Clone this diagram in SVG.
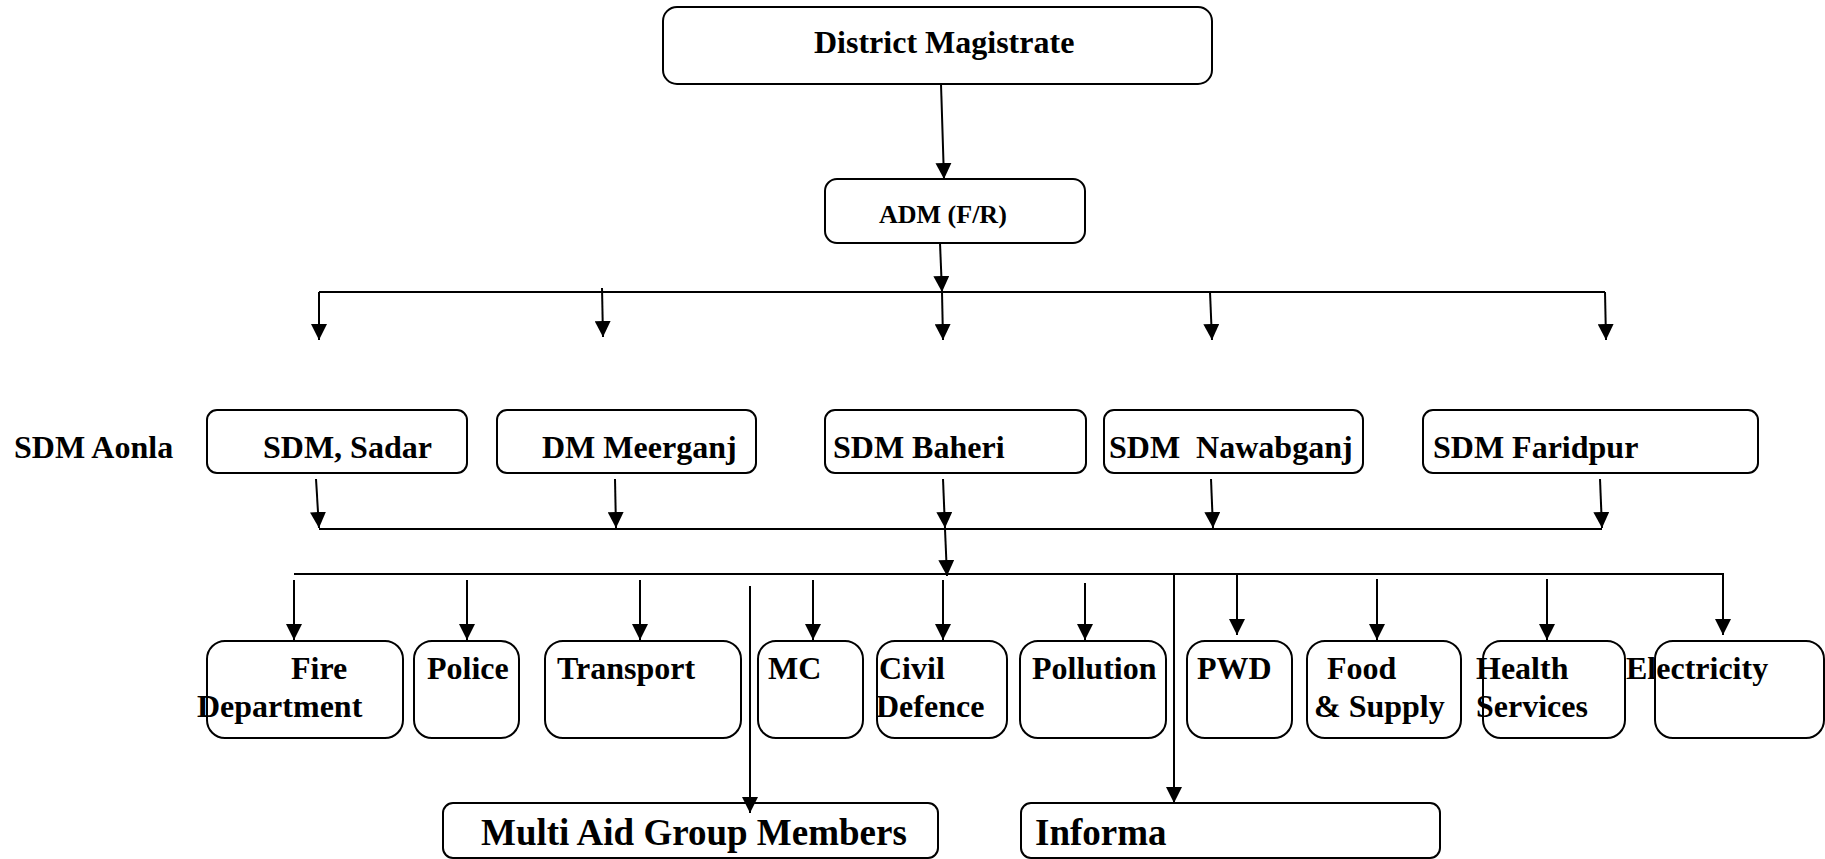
<svg xmlns="http://www.w3.org/2000/svg" width="1825" height="859" viewBox="0 0 1825 859">
<style>
.box{fill:#fff;stroke:#000;stroke-width:2}
.t{font-family:"Liberation Serif","Times New Roman",serif;font-weight:bold;font-size:32px;fill:#000}
.big{font-size:37px}
.small{font-size:26px}
.c{fill:none;stroke:#000;stroke-width:2}
</style>
<defs>
<marker id="ah" markerUnits="userSpaceOnUse" viewBox="0 0 16 16" refX="16" refY="8" markerWidth="16" markerHeight="16" orient="auto">
<path d="M0,0 L16,8 L0,16 z" fill="#000"/>
</marker>
</defs>
<rect width="1825" height="859" fill="#fff"/>
<g id="n-dm"><rect class="box" x="663" y="7" width="549" height="77" rx="14"/><text class="t" x="814" y="53">District Magistrate</text></g>
<g id="n-adm"><rect class="box" x="825" y="179" width="260" height="64" rx="12"/><text class="t small" x="879" y="223">ADM (F/R)</text></g>
<g id="n-aonla"><text class="t" x="14" y="458">SDM Aonla</text></g>
<g id="n-sadar"><rect class="box" x="207" y="410" width="260" height="63" rx="10"/><text class="t" x="263" y="458">SDM, Sadar</text></g>
<g id="n-meerganj"><rect class="box" x="497" y="410" width="259" height="63" rx="10"/><text class="t" x="542" y="458">DM Meerganj</text></g>
<g id="n-baheri"><rect class="box" x="825" y="410" width="261" height="63" rx="10"/><text class="t" x="833" y="458">SDM Baheri</text></g>
<g id="n-nawabganj"><rect class="box" x="1104" y="410" width="259" height="63" rx="10"/><text class="t" x="1109" y="458" xml:space="preserve">SDM  Nawabganj</text></g>
<g id="n-faridpur"><rect class="box" x="1423" y="410" width="335" height="63" rx="10"/><text class="t" x="1433" y="458">SDM Faridpur</text></g>
<g id="n-fire"><rect class="box" x="207" y="641" width="196" height="97" rx="18"/><text class="t" x="291" y="679">Fire</text><text class="t" x="197" y="717">Department</text></g>
<g id="n-police"><rect class="box" x="414" y="641" width="105" height="97" rx="18"/><text class="t" x="427" y="679">Police</text></g>
<g id="n-transport"><rect class="box" x="545" y="641" width="196" height="97" rx="18"/><text class="t" x="557" y="679">Transport</text></g>
<g id="n-mc"><rect class="box" x="758" y="641" width="105" height="97" rx="18"/><text class="t" x="768" y="679">MC</text></g>
<g id="n-civil"><rect class="box" x="877" y="641" width="130" height="97" rx="18"/><text class="t" x="879" y="679">Civil</text><text class="t" x="876" y="717">Defence</text></g>
<g id="n-pollution"><rect class="box" x="1020" y="641" width="146" height="97" rx="18"/><text class="t" x="1032" y="679">Pollution</text></g>
<g id="n-pwd"><rect class="box" x="1187" y="641" width="105" height="97" rx="18"/><text class="t" x="1197" y="679">PWD</text></g>
<g id="n-food"><rect class="box" x="1307" y="641" width="154" height="97" rx="18"/><text class="t" x="1327" y="679">Food</text><text class="t" x="1314" y="717">&amp; Supply</text></g>
<g id="n-health"><rect class="box" x="1483" y="641" width="142" height="97" rx="18"/><text class="t" x="1476" y="679">Health</text><text class="t" x="1476" y="717">Services</text></g>
<g id="n-electricity"><rect class="box" x="1655" y="641" width="169" height="97" rx="18"/><text class="t" x="1626" y="679">Electricity</text></g>
<g id="n-multiaid"><rect class="box" x="443" y="803" width="495" height="55" rx="10"/><text class="t big" x="481" y="845">Multi Aid Group Members</text></g>
<g id="n-informa"><rect class="box" x="1021" y="803" width="419" height="55" rx="10"/><text class="t big" x="1035" y="845">Informa</text></g>
<g id="connectors">
<path class="c" d="M941,84 L944,179" marker-end="url(#ah)"/>
<path class="c" d="M940,243 L942,292" marker-end="url(#ah)"/>
<path class="c" d="M319,292 H1605"/>
<path class="c" d="M319,292 L319,340" marker-end="url(#ah)"/>
<path class="c" d="M602,288 L603,337" marker-end="url(#ah)"/>
<path class="c" d="M942,292 L943,340" marker-end="url(#ah)"/>
<path class="c" d="M1210,292 L1212,340" marker-end="url(#ah)"/>
<path class="c" d="M1605,292 L1606,340" marker-end="url(#ah)"/>
<path class="c" d="M316,479 L319,528" marker-end="url(#ah)"/>
<path class="c" d="M615,479 L616,528" marker-end="url(#ah)"/>
<path class="c" d="M943,479 L945,528" marker-end="url(#ah)"/>
<path class="c" d="M1211,479 L1213,528" marker-end="url(#ah)"/>
<path class="c" d="M1600,479 L1602,528" marker-end="url(#ah)"/>
<path class="c" d="M319,529 H1602"/>
<path class="c" d="M945,529 L947,576" marker-end="url(#ah)"/>
<path class="c" d="M294,574 H1723 V635" marker-end="url(#ah)"/>
<path class="c" d="M294,580 L294,640" marker-end="url(#ah)"/>
<path class="c" d="M467,580 L467,640" marker-end="url(#ah)"/>
<path class="c" d="M640,580 L640,640" marker-end="url(#ah)"/>
<path class="c" d="M813,580 L813,640" marker-end="url(#ah)"/>
<path class="c" d="M943,580 L943,640" marker-end="url(#ah)"/>
<path class="c" d="M1085,583 L1085,640" marker-end="url(#ah)"/>
<path class="c" d="M1237,575 L1237,635" marker-end="url(#ah)"/>
<path class="c" d="M1377,579 L1377,640" marker-end="url(#ah)"/>
<path class="c" d="M1547,579 L1547,640" marker-end="url(#ah)"/>
<path class="c" d="M750,586 L750,813" marker-end="url(#ah)"/>
<path class="c" d="M1174,574 L1174,803" marker-end="url(#ah)"/>
</g>
</svg>
